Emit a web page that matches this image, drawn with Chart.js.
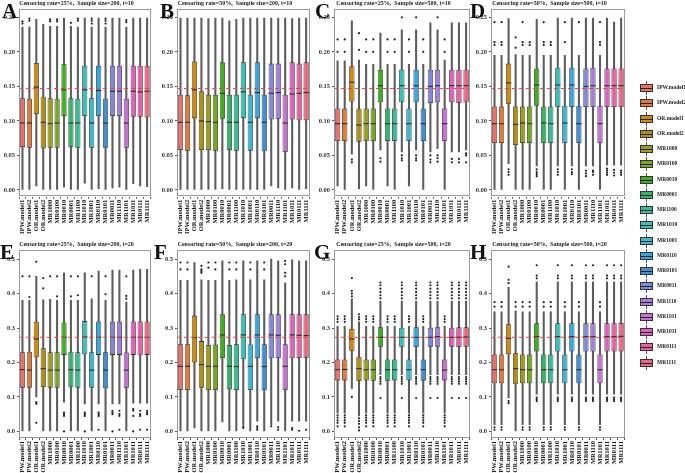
<!DOCTYPE html>
<html>
<head>
<meta charset="utf-8">
<script src="https://cdn.jsdelivr.net/npm/chart.js@4.4.1/dist/chart.umd.min.js"></script>
<style>
body { margin: 0; background: #fff; }
#page { position: relative; width: 685px; height: 473px; overflow: hidden; font-family: 'Liberation Serif', serif; }
.letter { position: absolute; font-weight: bold; font-size: 21px; line-height: 1; color: #111; }
.lg-wh { position: absolute; width: 1px; background: #555; }
.lg-box { position: absolute; width: 13px; height: 8px; box-sizing: border-box; border: 0.8px solid #333; }
.lg-md { position: absolute; left: 0; right: 0; top: 3px; height: 1px; background: #222; }
.lg-txt { position: absolute; font-size: 5.5px; font-weight: bold; color: #222; white-space: nowrap; line-height: 1; }
</style>
</head>
<body>
<div id="page"></div>
<script>
// ==========================
// DATA
// ==========================

const categories = [
    "IPW.model1", "IPW.model2", "OR.model1", "OR.model2",
    "MR1000", "MR0100", "MR0010", "MR0001", "MR1100", "MR1010",
    "MR1001", "MR0110", "MR0101", "MR0011", "MR1110", "MR1101",
    "MR1011", "MR0111", "MR1111"
];

const boxColors = [
    "#EE6E68", "#E27A38", "#D08A0C", "#B38F10", "#9D9E1C", "#76AA1E",
    "#3EB01E", "#2FB767", "#35BF95", "#35C2BA", "#38B9D3", "#35A7E2",
    "#3D8FD6", "#7F88DA", "#A47EDE", "#C670D6", "#E05FC0", "#EB5EA0",
    "#F06482"
];

const titles = [
    "Censoring rate=25%,  Sample size=200, t=10",
    "Censoring rate=50%,  Sample size=200, t=10",
    "Censoring rate=25%,  Sample size=500, t=10",
    "Censoring rate=50%,  Sample size=500, t=10",
    "Censoring rate=25%,  Sample size=200, t=20",
    "Censoring rate=50%,  Sample size=200, t=20",
    "Censoring rate=25%,  Sample size=500, t=20",
    "Censoring rate=50%,  Sample size=500, t=20"
];

const topTicks = [0, 0.05, 0.10, 0.15, 0.20, 0.25];
const bottomTicks = [0, 0.1, 0.2, 0.3, 0.4, 0.5];

// true value (red dashed line)
const trueTop = 0.147;
const trueBottom = 0.273;

// [lower whisker, q1, median, q3, upper whisker]
const statsA = [
    [0.000, 0.062, 0.097, 0.133, 0.236], [0.000, 0.061, 0.097, 0.132, 0.236],
    [0.006, 0.110, 0.149, 0.184, 0.247], [0.000, 0.060, 0.098, 0.135, 0.240],
    [0.000, 0.061, 0.096, 0.133, 0.237], [0.000, 0.061, 0.097, 0.132, 0.237],
    [0.004, 0.107, 0.145, 0.182, 0.249], [0.000, 0.062, 0.097, 0.133, 0.237],
    [0.000, 0.061, 0.097, 0.132, 0.236], [0.010, 0.107, 0.145, 0.180, 0.249],
    [0.000, 0.061, 0.097, 0.133, 0.236], [0.002, 0.107, 0.144, 0.180, 0.249],
    [0.000, 0.061, 0.097, 0.132, 0.236], [0.003, 0.107, 0.143, 0.180, 0.249],
    [0.004, 0.107, 0.143, 0.180, 0.249], [0.000, 0.061, 0.097, 0.132, 0.236],
    [0.009, 0.106, 0.143, 0.180, 0.249], [0.006, 0.106, 0.142, 0.180, 0.249],
    [0.005, 0.105, 0.143, 0.180, 0.249]
];
const outA = [
    [0.241, 0.244], [0.245, 0.248], [], [], [0.244, 0.247], [0.244, 0.247],
    [], [0.242], [0.245, 0.248], [], [0.241, 0.245, 0.248], [],
    [0.241, 0.245, 0.248], [], [], [0.243, 0.246], [], [], []
];

const statsB = [
    [0.000, 0.058, 0.098, 0.138, 0.249], [0.000, 0.057, 0.098, 0.137, 0.249],
    [0.000, 0.104, 0.145, 0.186, 0.249], [0.000, 0.058, 0.100, 0.143, 0.249],
    [0.000, 0.058, 0.099, 0.138, 0.248], [0.000, 0.057, 0.098, 0.138, 0.249],
    [0.002, 0.103, 0.140, 0.185, 0.249], [0.000, 0.058, 0.098, 0.138, 0.245],
    [0.000, 0.057, 0.098, 0.138, 0.247], [0.001, 0.104, 0.142, 0.185, 0.249],
    [0.000, 0.057, 0.098, 0.138, 0.249], [0.001, 0.104, 0.141, 0.185, 0.249],
    [0.000, 0.056, 0.098, 0.138, 0.249], [0.006, 0.102, 0.140, 0.183, 0.249],
    [0.003, 0.103, 0.141, 0.183, 0.249], [0.000, 0.055, 0.097, 0.138, 0.249],
    [0.003, 0.102, 0.139, 0.185, 0.248], [0.001, 0.101, 0.140, 0.183, 0.249],
    [0.002, 0.101, 0.141, 0.185, 0.249]
];
const outB = [
    [], [], [], [], [], [], [], [], [], [], [], [], [], [], [], [], [], [], []
];

const statsC = [
    [0.006, 0.071, 0.096, 0.118, 0.187], [0.000, 0.071, 0.096, 0.118, 0.187],
    [0.052, 0.128, 0.156, 0.179, 0.245], [0.002, 0.070, 0.094, 0.118, 0.188],
    [0.006, 0.071, 0.096, 0.118, 0.182], [0.000, 0.071, 0.096, 0.118, 0.182],
    [0.058, 0.127, 0.151, 0.174, 0.227], [0.006, 0.071, 0.096, 0.118, 0.182],
    [0.000, 0.071, 0.096, 0.118, 0.182], [0.055, 0.127, 0.151, 0.174, 0.232],
    [0.006, 0.071, 0.096, 0.118, 0.182], [0.058, 0.127, 0.151, 0.174, 0.232],
    [0.000, 0.071, 0.096, 0.118, 0.182], [0.055, 0.126, 0.150, 0.174, 0.242],
    [0.060, 0.127, 0.151, 0.174, 0.232], [0.000, 0.071, 0.096, 0.118, 0.188],
    [0.055, 0.127, 0.151, 0.174, 0.242], [0.055, 0.126, 0.151, 0.174, 0.242],
    [0.058, 0.127, 0.151, 0.174, 0.242]
];
const outC = [
    [0.200, 0.218], [0.200, 0.218], [0.040, 0.044], [0.203, 0.227],
    [0.200, 0.218], [0.200, 0.218], [0.041, 0.046], [0.200, 0.218],
    [0.200, 0.218], [0.043, 0.046, 0.050, 0.250], [0.200, 0.218],
    [0.043, 0.046, 0.050, 0.250], [0.200, 0.218], [0.040, 0.044, 0.050],
    [0.041, 0.046, 0.050, 0.250], [0.200, 0.218], [0.040, 0.045],
    [0.040, 0.045], [0.040, 0.050, 0.053]
];

const statsD = [
    [0.000, 0.068, 0.096, 0.121, 0.195], [0.000, 0.068, 0.096, 0.121, 0.195],
    [0.038, 0.125, 0.155, 0.183, 0.248], [0.000, 0.065, 0.095, 0.121, 0.196],
    [0.000, 0.068, 0.097, 0.121, 0.195], [0.000, 0.068, 0.096, 0.121, 0.195],
    [0.035, 0.122, 0.152, 0.176, 0.247], [0.000, 0.068, 0.097, 0.121, 0.195],
    [0.000, 0.068, 0.096, 0.121, 0.195], [0.035, 0.120, 0.152, 0.177, 0.249],
    [0.000, 0.068, 0.097, 0.122, 0.195], [0.035, 0.120, 0.152, 0.177, 0.249],
    [0.000, 0.068, 0.096, 0.122, 0.195], [0.035, 0.120, 0.150, 0.176, 0.249],
    [0.035, 0.120, 0.151, 0.177, 0.249], [0.000, 0.068, 0.096, 0.122, 0.195],
    [0.036, 0.120, 0.151, 0.176, 0.249], [0.036, 0.120, 0.151, 0.176, 0.243],
    [0.036, 0.120, 0.151, 0.176, 0.249]
];
const outD = [
    [0.210, 0.214, 0.243], [0.210, 0.214, 0.243], [0.022, 0.026, 0.030],
    [0.206, 0.221], [0.210, 0.214, 0.243], [0.210, 0.214],
    [0.020, 0.023, 0.026, 0.030], [0.210, 0.214, 0.243], [0.210, 0.214],
    [0.022, 0.026, 0.030], [0.214, 0.243], [0.023, 0.026, 0.030], [0.243],
    [0.020, 0.024, 0.028], [0.022, 0.026, 0.028], [0.210, 0.214, 0.243],
    [0.022, 0.025, 0.028, 0.031], [0.021, 0.025, 0.029], [0.022, 0.025, 0.028]
];

const statsE = [
    [0.000, 0.127, 0.179, 0.230, 0.380], [0.000, 0.127, 0.178, 0.231, 0.380],
    [0.100, 0.215, 0.268, 0.318, 0.450], [0.000, 0.129, 0.182, 0.241, 0.382],
    [0.000, 0.127, 0.178, 0.230, 0.383], [0.000, 0.127, 0.178, 0.230, 0.380],
    [0.085, 0.222, 0.273, 0.316, 0.460], [0.000, 0.128, 0.179, 0.231, 0.380],
    [0.000, 0.127, 0.178, 0.230, 0.380], [0.080, 0.224, 0.274, 0.320, 0.460],
    [0.000, 0.127, 0.178, 0.230, 0.385], [0.080, 0.222, 0.273, 0.319, 0.465],
    [0.000, 0.125, 0.178, 0.230, 0.380], [0.080, 0.222, 0.273, 0.318, 0.468],
    [0.080, 0.222, 0.273, 0.319, 0.468], [0.000, 0.127, 0.178, 0.229, 0.375],
    [0.082, 0.222, 0.273, 0.319, 0.468], [0.082, 0.221, 0.273, 0.319, 0.470],
    [0.082, 0.222, 0.273, 0.319, 0.470]
];
const outE = [
    [0.450], [0.390, 0.450], [0.025, 0.080, 0.085, 0.492], [0.415, 0.445],
    [0.450], [0.392, 0.450], [0.000, 0.045, 0.050, 0.055], [0.392, 0.450],
    [0.395, 0.450], [0.000, 0.045, 0.050, 0.055], [0.450],
    [0.005, 0.045, 0.050, 0.055], [0.398, 0.450], [0.000, 0.050, 0.055, 0.060],
    [0.005, 0.045, 0.050, 0.060], [0.385, 0.393, 0.450],
    [0.000, 0.045, 0.060, 0.065], [0.005, 0.045, 0.050, 0.060],
    [0.005, 0.050, 0.055, 0.060]
];

const statsF = [
    [0.000, 0.120, 0.189, 0.253, 0.438], [0.000, 0.120, 0.189, 0.253, 0.438],
    [0.010, 0.200, 0.272, 0.336, 0.490], [0.000, 0.127, 0.194, 0.262, 0.440],
    [0.000, 0.120, 0.189, 0.251, 0.438], [0.000, 0.120, 0.189, 0.252, 0.438],
    [0.028, 0.213, 0.280, 0.340, 0.495], [0.000, 0.122, 0.189, 0.251, 0.438],
    [0.000, 0.120, 0.188, 0.253, 0.440], [0.020, 0.211, 0.280, 0.340, 0.495],
    [0.000, 0.120, 0.189, 0.252, 0.440], [0.030, 0.213, 0.280, 0.340, 0.495],
    [0.000, 0.120, 0.188, 0.253, 0.440], [0.020, 0.212, 0.280, 0.340, 0.500],
    [0.030, 0.213, 0.279, 0.340, 0.495], [0.000, 0.120, 0.189, 0.253, 0.430],
    [0.030, 0.212, 0.280, 0.340, 0.498], [0.030, 0.213, 0.279, 0.340, 0.495],
    [0.030, 0.214, 0.278, 0.340, 0.495]
];
const outF = [
    [0.470, 0.490], [0.470, 0.490], [], [0.460, 0.465, 0.470, 0.480],
    [0.475, 0.490], [0.470, 0.490], [], [0.470, 0.490], [0.470, 0.490],
    [0.010, 0.015], [0.470, 0.490], [0.005, 0.010, 0.015], [0.470, 0.490],
    [0.015], [0.005, 0.012], [0.450, 0.460, 0.485, 0.495], [0.005, 0.010],
    [0.002], [0.005]
];

const statsG = [
    [0.053, 0.148, 0.179, 0.209, 0.305], [0.053, 0.148, 0.180, 0.209, 0.305],
    [0.125, 0.234, 0.268, 0.297, 0.385], [0.045, 0.146, 0.182, 0.217, 0.318],
    [0.053, 0.148, 0.179, 0.209, 0.305], [0.053, 0.147, 0.179, 0.209, 0.305],
    [0.165, 0.246, 0.273, 0.302, 0.378], [0.053, 0.147, 0.179, 0.209, 0.305],
    [0.053, 0.148, 0.179, 0.209, 0.305], [0.165, 0.246, 0.273, 0.301, 0.378],
    [0.053, 0.148, 0.179, 0.209, 0.305], [0.165, 0.245, 0.273, 0.302, 0.378],
    [0.053, 0.147, 0.179, 0.209, 0.305], [0.165, 0.246, 0.273, 0.301, 0.378],
    [0.165, 0.246, 0.275, 0.302, 0.378], [0.053, 0.148, 0.178, 0.209, 0.305],
    [0.165, 0.246, 0.273, 0.301, 0.378], [0.165, 0.245, 0.273, 0.302, 0.378],
    [0.165, 0.246, 0.274, 0.302, 0.378]
];
const outG = [
    [0.015, 0.025, 0.032, 0.040, 0.047, 0.318, 0.326, 0.334],
    [0.015, 0.025, 0.032, 0.040, 0.047, 0.318, 0.326, 0.334],
    [0.100, 0.392, 0.400, 0.408, 0.445],
    [0.003, 0.012, 0.022, 0.030, 0.038, 0.325, 0.332, 0.340],
    [0.015, 0.025, 0.032, 0.040, 0.047, 0.318, 0.326, 0.334],
    [0.015, 0.025, 0.032, 0.040, 0.047, 0.318, 0.326, 0.334],
    [0.097, 0.138, 0.145, 0.152, 0.158, 0.386, 0.395, 0.404, 0.414, 0.424, 0.432],
    [0.015, 0.025, 0.032, 0.040, 0.047, 0.318, 0.326, 0.334],
    [0.015, 0.025, 0.032, 0.040, 0.047, 0.318, 0.326, 0.334],
    [0.097, 0.138, 0.145, 0.152, 0.158, 0.386, 0.395, 0.404, 0.414, 0.424, 0.432],
    [0.015, 0.025, 0.032, 0.040, 0.047, 0.318, 0.326, 0.334],
    [0.097, 0.138, 0.145, 0.152, 0.158, 0.386, 0.395, 0.404, 0.414, 0.424, 0.432],
    [0.015, 0.025, 0.032, 0.040, 0.047, 0.318, 0.326, 0.334],
    [0.097, 0.138, 0.145, 0.152, 0.158, 0.386, 0.395, 0.404, 0.414, 0.424, 0.432],
    [0.097, 0.138, 0.145, 0.152, 0.158, 0.386, 0.395, 0.404, 0.414, 0.424, 0.432],
    [0.015, 0.025, 0.032, 0.040, 0.047, 0.318, 0.326, 0.334],
    [0.097, 0.138, 0.145, 0.152, 0.158, 0.386, 0.395, 0.404, 0.414, 0.424, 0.432],
    [0.097, 0.138, 0.145, 0.152, 0.158, 0.386, 0.395, 0.404, 0.414, 0.424, 0.432],
    [0.097, 0.138, 0.145, 0.152, 0.158, 0.386, 0.395, 0.404, 0.414, 0.424, 0.432]
];

const statsH = [
    [0.020, 0.140, 0.179, 0.223, 0.347], [0.020, 0.140, 0.179, 0.223, 0.347],
    [0.097, 0.224, 0.270, 0.311, 0.418], [0.000, 0.137, 0.182, 0.227, 0.350],
    [0.020, 0.140, 0.179, 0.223, 0.347], [0.020, 0.140, 0.179, 0.223, 0.347],
    [0.108, 0.232, 0.275, 0.314, 0.434], [0.020, 0.140, 0.179, 0.223, 0.347],
    [0.020, 0.140, 0.179, 0.223, 0.347], [0.108, 0.232, 0.275, 0.314, 0.434],
    [0.020, 0.140, 0.179, 0.223, 0.347], [0.108, 0.232, 0.275, 0.314, 0.434],
    [0.020, 0.140, 0.179, 0.223, 0.347], [0.108, 0.232, 0.275, 0.314, 0.434],
    [0.108, 0.232, 0.275, 0.314, 0.434], [0.020, 0.140, 0.179, 0.223, 0.347],
    [0.108, 0.232, 0.275, 0.314, 0.434], [0.108, 0.232, 0.275, 0.314, 0.434],
    [0.108, 0.232, 0.276, 0.315, 0.434]
];
const outH = [
    [0.005, 0.012, 0.362, 0.375], [0.005, 0.012, 0.362, 0.375],
    [0.082, 0.088, 0.430, 0.440, 0.478], [0.362, 0.375],
    [0.005, 0.012, 0.362, 0.375], [0.005, 0.012, 0.362, 0.375],
    [0.088, 0.093, 0.098, 0.444, 0.452, 0.482], [0.005, 0.012, 0.362, 0.375],
    [0.005, 0.012, 0.362, 0.375], [0.088, 0.093, 0.098, 0.444, 0.452, 0.482],
    [0.005, 0.012, 0.362, 0.375], [0.088, 0.093, 0.098, 0.444, 0.452, 0.482],
    [0.005, 0.012, 0.362, 0.375], [0.088, 0.093, 0.098, 0.444, 0.452, 0.482],
    [0.088, 0.093, 0.098, 0.444, 0.452, 0.482], [0.005, 0.012, 0.362, 0.375],
    [0.088, 0.093, 0.098, 0.444, 0.452, 0.482], [0.088, 0.093, 0.098, 0.444, 0.452, 0.482],
    [0.088, 0.093, 0.098, 0.444, 0.452, 0.482]
];

// ==========================
// LAYOUT
// ==========================

const page = document.getElementById("page");

const fontFamily = "'Liberation Serif', serif";

const columns = [
    { left: 0, width: 156 },
    { left: 158, width: 157 },
    { left: 315, width: 160 },
    { left: 472, width: 158 }
];

const rows = [
    { top: 0, height: 235, titleTop: 0, axisH: 38.3, yMin: -0.0097, yMax: 0.2616, ticks: topTicks, dec: 2, ref: trueTop },
    { top: 238, height: 235, titleTop: 2.8, axisH: 35, yMin: -0.019, yMax: 0.526, ticks: bottomTicks, dec: 1, ref: trueBottom }
];

const panelStats = [statsA, statsB, statsC, statsD, statsE, statsF, statsG, statsH];
const panelOut = [outA, outB, outC, outD, outE, outF, outG, outH];
const letters = ["A", "B", "C", "D", "E", "F", "G", "H"];
const letterPos = [[2, 1], [160, 1], [315, 1], [470, 1], [0, 242], [154, 242], [314, 242], [470, 242]];

// ==========================
// MEDIANS, TRUE LINE, BORDER
// ==========================

function boxExtras(stats, ref) {
    return {
        id: "boxExtras",
        afterDatasetsDraw(chart) {
            const ctx = chart.ctx;
            const y = chart.scales.y;
            const area = chart.chartArea;
            const meta = chart.getDatasetMeta(1);

            ctx.save();

            // medians
            ctx.strokeStyle = "#222";
            ctx.lineWidth = 1;
            meta.data.forEach((bar, i) => {
                const py = y.getPixelForValue(stats[i][2]);
                ctx.beginPath();
                ctx.moveTo(bar.x - bar.width / 2, py);
                ctx.lineTo(bar.x + bar.width / 2, py);
                ctx.stroke();
            });

            // true value line
            const ry = y.getPixelForValue(ref);
            ctx.strokeStyle = "#E8473F";
            ctx.setLineDash([4, 3]);
            ctx.beginPath();
            ctx.moveTo(area.left, ry);
            ctx.lineTo(area.right, ry);
            ctx.stroke();

            // panel border
            ctx.setLineDash([]);
            ctx.strokeStyle = "#9a9a9a";
            ctx.strokeRect(
                Math.round(area.left) + 0.5,
                Math.round(area.top) + 0.5,
                Math.round(area.right - area.left) - 1,
                Math.round(area.bottom - area.top) - 1
            );
            ctx.restore();
        }
    };
}

// ==========================
// PANELS
// ==========================

panelStats.forEach((stats, k) => {

    const col = columns[k % 4];
    const row = rows[Math.floor(k / 4)];

    const canvas = document.createElement("canvas");
    canvas.width = col.width;
    canvas.height = row.height;
    canvas.style.cssText =
        "position:absolute;left:" + col.left + "px;top:" + row.top +
        "px;width:" + col.width + "px;height:" + row.height + "px";
    page.appendChild(canvas);

    const outPoints = [];
    panelOut[k].forEach((list, i) => {
        list.forEach(v => outPoints.push({ x: categories[i], y: v }));
    });

    new Chart(canvas, {
        type: "bar",
        data: {
            labels: categories,
            datasets: [
                // whiskers: thin floating bars from lower to upper whisker
                {
                    data: stats.map(s => [s[0], s[4]]),
                    backgroundColor: "#5c5c5c",
                    borderWidth: 0,
                    barThickness: 1.4,
                    grouped: false,
                    order: 3
                },
                // boxes: q1 to q3
                {
                    data: stats.map(s => [s[1], s[3]]),
                    backgroundColor: boxColors,
                    borderColor: "#333",
                    borderWidth: 0.8,
                    borderSkipped: false,
                    barPercentage: 0.75,
                    categoryPercentage: 1,
                    grouped: false,
                    order: 2
                },
                // outliers
                {
                    type: "scatter",
                    data: outPoints,
                    pointRadius: 1.1,
                    pointBackgroundColor: "#222",
                    pointBorderWidth: 0,
                    showLine: false,
                    order: 1
                }
            ]
        },
        options: {
            responsive: false,
            animation: false,
            events: [],
            layout: { padding: { left: 0, right: 3, top: 0, bottom: 0 } },
            plugins: {
                legend: { display: false },
                tooltip: { enabled: false },
                title: {
                    display: true,
                    text: titles[k],
                    color: "#222",
                    font: { family: fontFamily, size: 6, weight: "bold" },
                    padding: { top: row.titleTop, bottom: 2.1 }
                }
            },
            scales: {
                x: {
                    type: "category",
                    offset: true,
                    grid: { display: true, drawOnChartArea: false, drawTicks: true, tickLength: 2, color: "#555" },
                    border: { display: false },
                    ticks: {
                        autoSkip: false,
                        maxRotation: 90,
                        minRotation: 90,
                        padding: 1,
                        color: "#222",
                        font: { family: fontFamily, size: 6.5, weight: "bold" }
                    },
                    afterFit: s => { s.height = row.axisH; }
                },
                y: {
                    min: row.yMin,
                    max: row.yMax,
                    afterBuildTicks: s => { s.ticks = row.ticks.map(v => ({ value: v })); },
                    grid: { display: true, drawOnChartArea: false, drawTicks: true, tickLength: 2, color: "#555" },
                    border: { display: false },
                    ticks: {
                        padding: 2,
                        color: "#333",
                        font: { family: fontFamily, size: 6.5, weight: "bold" },
                        callback: v => Number(v).toFixed(row.dec)
                    },
                    afterFit: s => { s.width = 19; }
                }
            }
        },
        plugins: [boxExtras(stats, row.ref)]
    });

    const letter = document.createElement("div");
    letter.className = "letter";
    letter.textContent = letters[k];
    letter.style.left = letterPos[k][0] + "px";
    letter.style.top = letterPos[k][1] + "px";
    page.appendChild(letter);
});

// ==========================
// LEGEND
// ==========================

categories.forEach((name, i) => {

    const cy = 88 + i * 15.25;

    const wh = document.createElement("div");
    wh.className = "lg-wh";
    wh.style.left = "646px";
    wh.style.top = (cy - 7) + "px";
    wh.style.height = "14px";
    page.appendChild(wh);

    const box = document.createElement("div");
    box.className = "lg-box";
    box.style.left = "640px";
    box.style.top = (cy - 4) + "px";
    box.style.background = boxColors[i];
    box.innerHTML = '<div class="lg-md"></div>';
    page.appendChild(box);

    const txt = document.createElement("div");
    txt.className = "lg-txt";
    txt.style.left = "657px";
    txt.style.top = (cy - 3) + "px";
    txt.textContent = name;
    page.appendChild(txt);
});
</script>
</body>
</html>
